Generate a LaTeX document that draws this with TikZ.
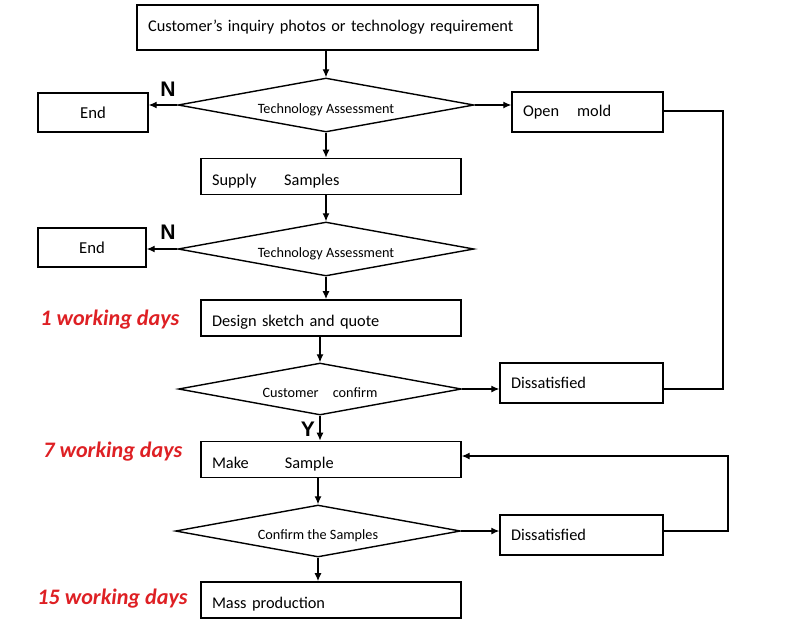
\documentclass[tikz,border=0pt]{standalone}
\usepackage{fontspec}
\setmainfont{Carlito}
\newfontfamily\arialfont{Liberation Sans}
\usetikzlibrary{shapes.geometric}
\usetikzlibrary{arrows.meta}
\usetikzlibrary{calc}
\definecolor{dayred}{RGB}{222,32,36}

\begin{document}
\begin{tikzpicture}[x=0.02cm, y=-0.02cm,
    box/.style={draw, line width=0.8pt, inner xsep=0.22cm, align=left, font=\fontsize{9.3}{11}\selectfont},
    lowtext/.style={text height=1.2em, text depth=0.2em},
    endbox/.style={draw, line width=0.8pt, minimum width=2.2cm, minimum height=0.78cm, font=\fontsize{9.5}{11}\selectfont},
    check/.style={draw, diamond, line width=0.8pt, inner sep=0pt, aspect=5, lowtext, font=\fontsize{8.1}{9}\selectfont},
    flow/.style={-{Latex[length=1.6mm,width=1.4mm]}, line width=0.7pt},
    days/.style={text=dayred, anchor=west, inner sep=0pt, font=\fontsize{12.6}{14}\selectfont\bfseries\itshape},
    yesno/.style={inner sep=0pt, font=\arialfont\bfseries\fontsize{12}{14}\selectfont}]
    \useasboundingbox (0,0) rectangle (800,623);

    % Inquiry and first assessment
    \node[box, text width=7.58cm, minimum height=0.9cm] (inquiry) at (337.5,27.5) {Customer’s inquiry photos or technology requirement};
    \node[check, minimum width=5.92cm, minimum height=1.08cm] (assessA) at (326,105) {Technology Assessment};
    \node[endbox] (endA) at (93,112.5) {End};
    \node[box, text width=2.58cm, minimum height=0.8cm] (openmold) at (587.5,112) {Open\hspace{1.1em}mold};
    \node[yesno] (noA) at (168,89) {N};

    % Samples and second assessment
    \node[box, lowtext, text width=4.76cm, minimum height=0.66cm] (supply) at (331,176.5) {Supply\hspace{1.7em}Samples};
    \node[check, minimum width=5.92cm, minimum height=1.08cm] (assessB) at (326,249) {Technology Assessment};
    \node[endbox, minimum width=2.16cm] (endB) at (92,247.5) {End};
    \node[yesno] (noB) at (168,232) {N};

    % Design and customer confirmation
    \node[box, lowtext, text width=4.76cm, minimum height=0.68cm] (design) at (331,318) {Design sketch and quote};
    \node[days] (daysA) at (40,320) {1 working days};
    \node[check, minimum width=5.66cm, minimum height=1.04cm] (confirmA) at (320,389) {Customer\hspace{1em}confirm};
    \node[box, text width=2.82cm, minimum height=0.8cm] (dissatA) at (581.5,383) {Dissatisfied};
    \node[yesno] (yes) at (308,429) {Y};

    % Sample making and mass production
    \node[box, lowtext, text width=4.76cm, minimum height=0.66cm] (make) at (331,459.5) {Make\hspace{2.2em}Sample};
    \node[days] (daysB) at (43,452) {7 working days};
    \node[check, minimum width=5.7cm, minimum height=1.04cm] (confirmB) at (318,531) {Confirm the Samples};
    \node[box, text width=2.82cm, minimum height=0.8cm] (dissatB) at (581.5,535) {Dissatisfied};
    \node[box, lowtext, text width=4.76cm, minimum height=0.64cm] (mass) at (331,600) {Mass production};
    \node[days] (daysC) at (37,599) {15 working days};

    % Connectors
    \draw[flow] (inquiry.south -| assessA.north) -- (assessA.north);
    \draw[flow] (assessA.west) -- (assessA.west -| endA.east);
    \draw[flow] (assessA.east) -- (assessA.east -| openmold.west);
    \draw[flow] (assessA.south) -- (assessA.south |- supply.north);
    \draw[flow] (supply.south -| assessB.north) -- (assessB.north);
    \draw[flow] (assessB.west) -- (assessB.west -| endB.east);
    \draw[flow] (assessB.south) -- (assessB.south |- design.north);
    \draw[flow] (design.south -| confirmA.north) -- (confirmA.north);
    \draw[flow] (confirmA.east) -- (confirmA.east -| dissatA.west);
    \draw[flow] (confirmA.south) -- (confirmA.south |- make.north);
    \draw[flow] (make.south -| confirmB.north) -- (confirmB.north);
    \draw[flow] (confirmB.east) -- (confirmB.east -| dissatB.west);
    \draw[flow] (confirmB.south) -- (confirmB.south |- mass.north);

    % Return lines
    \coordinate (loopA) at (723,111);
    \coordinate (loopB) at (728,456);
    \draw[line width=0.7pt] (openmold.east |- loopA) -- (loopA) |- (confirmA.east -| dissatA.east);
    \draw[flow] (confirmB.east -| dissatB.east) -| (loopB) -- (loopB -| make.east);
\end{tikzpicture}
\end{document}
